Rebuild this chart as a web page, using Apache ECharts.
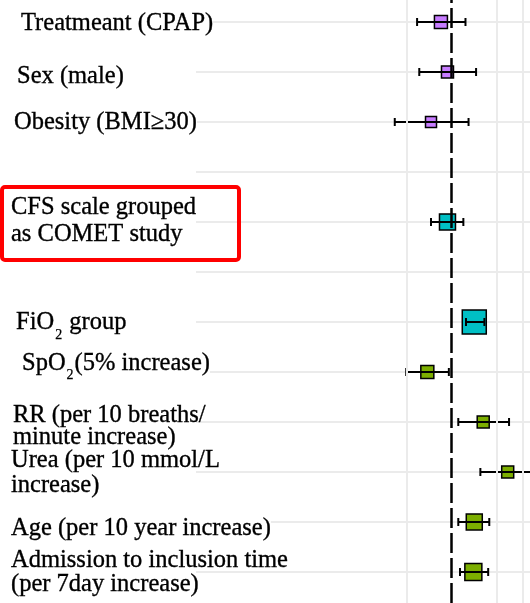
<!DOCTYPE html>
<html>
<head>
<meta charset="utf-8">
<style>
  html, body { margin: 0; padding: 0; background: #fff; }
  #chart { width: 530px; height: 603px; }
</style>
<script src="https://cdn.jsdelivr.net/npm/echarts@6/dist/echarts.min.js"></script>
</head>
<body>
<div id="chart"></div>
<script>
// rows top to bottom, '' = empty spacer row
const rowLabels = [
  'Treatmeant (CPAP)',
  'Sex (male)',
  'Obesity (BMI≥30)',
  '',
  'CFS scale grouped\nas COMET study',
  '',
  'FiO₂ group',
  'SpO₂(5% increase)',
  'RR (per 10 breaths/\nminute increase)',
  'Urea (per 10 mmol/L\nincrease)',
  'Age (per 10 year increase)',
  'Admission to inclusion time\n(per 7day increase)'
]
const estimate = [0.84, 0.93, 0.72, null, 0.93, null, 1.41, 0.68, 1.62, 2.37, 1.41, 1.39]
const lower = [0.58, 0.60, 0.41, null, 0.72, null, 1.24, 0.49, 1.10, 1.55, 1.10, 1.13]
const upper = [1.23, 1.45, 1.29, null, 1.19, null, 1.65, 0.95, 2.42, 3.90, 1.78, 1.75]
const weight = [13, 12, 11, null, 16, null, 24, 13, 12, 12, 16, 17]
const group = ['a', 'a', 'a', null, 'b', null, 'b', 'c', 'c', 'c', 'c', 'c']
const xGridValues = [0.5, 2, 3]
const refValue = 1

const groupColor = { a: '#C77CFF', b: '#00BFC4', c: '#7CAE00' }
const xMin = 0.0187
const xMax = 3.351

// label layout per row: [left x, vertical nudge, line spacing] (pasted-in text is not quite aligned)
const labelLayout = [
  [18, 1.5, 26], [14, 5, 26], [11, 1, 26], [0, 0, 26],
  [8, -0.5, 27], [0, 0, 26], [13, 1, 26], [19, -8.5, 26],
  [10, 4.5, 22.5], [8, 1.5, 25], [8, 7, 26], [8, 0.5, 24]
]

const textBase = {
  fontFamily: 'Liberation Serif', fontSize: 24.5, color: '#000',
  textBorderColor: '#000', textBorderWidth: 0.35
}

const rich = {}
labelLayout.forEach(([dx, dy, lh], i) => {
  const pTop = dy > 0 ? dy * 2 : 0
  const pBot = dy < 0 ? -dy * 2 : 0
  const base = Object.assign({ lineHeight: lh }, textBase)
  if (rowLabels[i].indexOf('\n') < 0) {
    // single-line labels sit on top of the grid line
    base.height = 18
    base.backgroundColor = '#fff'
  }
  rich['m' + i] = Object.assign({}, base, { padding: [pTop, 0, pBot, dx] })
  rich['n' + i] = Object.assign({}, base, { padding: [pTop, 0, pBot, 0] })
  const sShift = 12 + dy
  rich['s' + i] = Object.assign({}, textBase, {
    fontSize: 14, lineHeight: lh, textBorderWidth: 0.25,
    padding: [sShift > 0 ? sShift * 2 : 0, 1, sShift < 0 ? -sShift * 2 : 0, 1]
  })
})

function richLabel(text, i) {
  return text.split('\n').map(line => {
    return line.split('₂').map((part, k, arr) => {
      let s = '{' + (k === 0 ? 'm' : 'n') + i + '|' + part + '}'
      if (k < arr.length - 1) s += '{s' + i + '|2}'
      return s
    }).join('')
  }).join('\n')
}

const boxData = []
const barData = []
rowLabels.forEach((lab, i) => {
  if (estimate[i] == null) return
  boxData.push({
    value: [estimate[i], i + 1],
    symbolSize: weight[i],
    itemStyle: { color: groupColor[group[i]] }
  })
  barData.push([lower[i], upper[i], i + 1])
})

const hidden = {
  axisLine: { show: false },
  axisTick: { show: false },
  axisLabel: { show: false },
  splitLine: { show: false }
}

const chart = echarts.init(document.getElementById('chart'))
chart.setOption({
  animation: false,
  backgroundColor: '#fff',
  grid: [
    { left: 193, right: 0, top: 22, bottom: 31 }, // rows
    { left: 193, right: 0, top: 0, bottom: 0 } // full height for vertical lines
  ],
  xAxis: [
    Object.assign({ type: 'log', logBase: 2, min: xMin, max: xMax, gridIndex: 0 }, hidden),
    Object.assign({ type: 'log', logBase: 2, min: xMin, max: xMax, gridIndex: 1 }, hidden)
  ],
  yAxis: [
    {
      type: 'value',
      gridIndex: 0,
      inverse: true,
      min: 1,
      max: 12,
      interval: 1,
      axisLine: { show: false },
      axisTick: { show: false },
      splitLine: { show: true, lineStyle: { color: '#ebebeb', width: 2 } },
      axisLabel: {
        margin: 193,
        align: 'left',
        verticalAlign: 'middle',
        rich: rich,
        formatter(v) {
          const i = Math.round(v) - 1
          if (i < 0 || i >= rowLabels.length || !rowLabels[i]) return ''
          return richLabel(rowLabels[i], i)
        }
      }
    },
    Object.assign({ type: 'value', gridIndex: 1, min: 0, max: 1 }, hidden)
  ],
  graphic: [{
    type: 'rect',
    shape: { x: 2, y: 187, width: 237, height: 73, r: 3 },
    style: { fill: 'none', stroke: '#ff0000', lineWidth: 4 },
    z: 100
  }],
  series: [
    {
      // vertical grid lines
      type: 'scatter',
      xAxisIndex: 1,
      yAxisIndex: 1,
      data: [],
      z: 1,
      markLine: {
        silent: true,
        symbol: 'none',
        label: { show: false },
        lineStyle: { color: '#ebebeb', width: 2, type: 'solid' },
        data: xGridValues.map(v => ({ xAxis: v }))
      }
    },
    {
      type: 'scatter',
      data: boxData,
      symbol: 'rect',
      z: 3,
      itemStyle: { borderColor: '#000', borderWidth: 1.5, opacity: 1 }
    },
    {
      type: 'custom',
      data: barData,
      encode: { x: [0, 1], y: 2 },
      z: 4,
      renderItem(params, api) {
        const row = api.value(2)
        const a = api.coord([api.value(0), row])
        const b = api.coord([api.value(1), row])
        const st = { stroke: '#000', lineWidth: 2 }
        const cap = 4
        return {
          type: 'group',
          children: [
            { type: 'line', shape: { x1: a[0], y1: a[1], x2: b[0], y2: b[1] }, style: st },
            { type: 'line', shape: { x1: a[0], y1: a[1] - cap, x2: a[0], y2: a[1] + cap }, style: st },
            { type: 'line', shape: { x1: b[0], y1: b[1] - cap, x2: b[0], y2: b[1] + cap }, style: st }
          ]
        }
      }
    },
    {
      // reference line at OR = 1
      type: 'scatter',
      xAxisIndex: 1,
      yAxisIndex: 1,
      data: [],
      z: 5,
      markLine: {
        silent: true,
        symbol: 'none',
        label: { show: false },
        lineStyle: { color: '#000', width: 2.5, type: [20, 5] },
        data: [{ xAxis: refValue }]
      }
    }
  ]
})
</script>
</body>
</html>
